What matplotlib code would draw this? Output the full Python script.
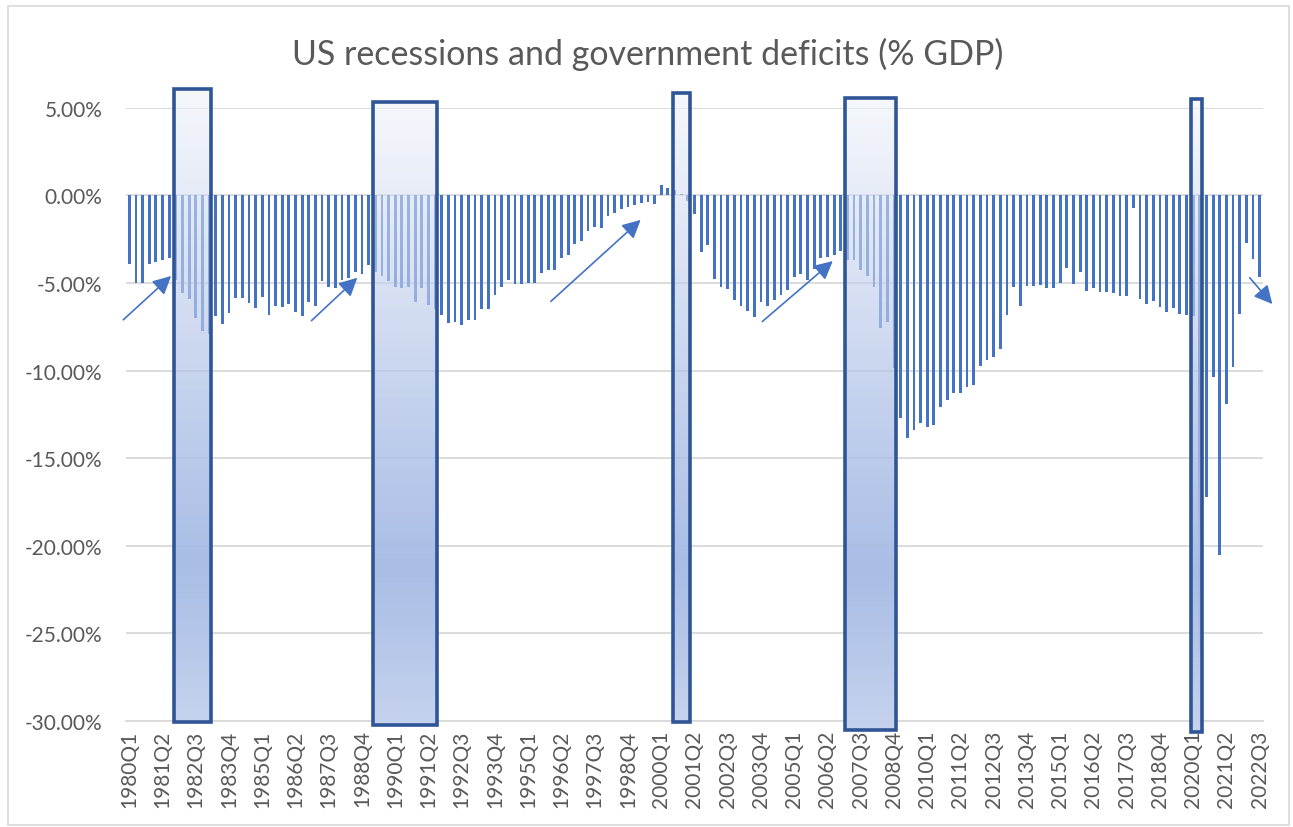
import matplotlib.pyplot as plt
import numpy as np
from matplotlib.patches import Rectangle

plt.rcParams['font.family'] = ['Lato', 'DejaVu Sans']

# quarterly deficit as % of GDP, 1980Q1 .. 2022Q3
years = list(range(1980, 2023))
quarters = [f"{y}Q{q}" for y in years for q in range(1, 5)][:171]

deficit = [
    -3.9, -5.0, -5.0, -3.9, -3.8, -3.7, -3.6, -4.85, -5.55, -5.9,
    -7.0, -7.75, -7.9, -6.9, -7.35, -6.7, -5.85, -5.85, -6.15, -6.45,
    -5.8, -6.8, -6.3, -6.35, -6.2, -6.65, -6.9, -6.1, -6.3, -4.9,
    -5.25, -5.3, -4.85, -4.7, -4.35, -4.5, -4.0, -4.35, -4.6, -4.9,
    -5.2, -5.3, -5.2, -6.1, -5.3, -6.25, -6.5, -6.8, -7.3, -7.25,
    -7.4, -7.1, -7.1, -6.5, -6.5, -5.7, -5.25, -4.85, -5.05, -5.05,
    -5.0, -5.0, -4.45, -4.25, -4.25, -3.6, -3.4, -2.8, -2.6, -2.05,
    -1.8, -1.85, -1.15, -1.0, -0.8, -0.65, -0.55, -0.45, -0.4, -0.5,
    0.6, 0.4, 0.3, 0.1, -0.3, -1.05, -3.25, -2.85, -4.8, -5.25,
    -5.35, -5.95, -6.3, -6.6, -6.95, -6.1, -6.3, -5.95, -5.7, -5.4,
    -4.65, -4.5, -4.85, -4.2, -3.6, -3.5, -3.4, -3.15, -3.7, -3.7,
    -4.25, -4.6, -5.25, -7.55, -7.2, -9.85, -12.7, -13.85, -13.4, -13.0,
    -13.2, -13.1, -12.1, -11.65, -11.3, -11.3, -10.95, -10.8, -9.75, -9.4,
    -9.25, -8.75, -6.85, -5.25, -6.3, -5.15, -5.15, -5.1, -5.3, -5.3,
    -5.0, -4.15, -5.05, -4.35, -5.45, -5.3, -5.5, -5.5, -5.55, -5.75,
    -5.75, -0.7, -5.9, -6.2, -6.0, -6.35, -6.65, -6.45, -6.75, -6.85,
    -6.9, -26.0, -17.2, -10.35, -20.55, -11.9, -9.8, -6.75, -2.7, -3.65,
    -4.65,
]

# recession boxes: first and last quarter covered
recession_start = ["1981Q4", "1989Q2", "2000Q3", "2007Q1", "2020Q1"]
recession_end = ["1983Q1", "1991Q3", "2001Q1", "2008Q4", "2020Q2"]

yticks = [5, 0, -5, -10, -15, -20, -25, -30]

BAR = '#4472c4'
EDGE = '#2f5597'
GREY = '#595959'
GRID = '#d9d9d9'

fig = plt.figure(figsize=(12.93, 8.28), dpi=100)
ax = fig.add_axes([0.0974, 0.128, 0.8794, 0.7406])

x = np.arange(len(deficit))
ax.bar(x, deficit, width=0.42, color=BAR, zorder=2)

# gradient filled boxes over each recession (semi-transparent at the top,
# nearly opaque lower down, like the Excel shapes)
box_top = [6.05, 5.35, 5.85, 5.55, 5.5]
box_bottom = [-30.05, -30.2, -30.05, -30.5, -30.6]
stops = [(0.0, (246, 248, 252)), (0.75, (169, 189, 230)), (1.0, (197, 211, 238))]
n = 200
t = np.linspace(0, 1, n)
alpha = np.interp(t, [0.0, 0.45, 0.7, 1.0], [0.55, 0.7, 0.97, 0.97])
grad = np.zeros((n, 1, 4))
for c in range(3):
    seen = np.interp(t, [s[0] for s in stops], [s[1][c] for s in stops]) / 255.0
    grad[:, 0, c] = np.clip((seen - (1 - alpha)) / alpha, 0, 1)
grad[:, 0, 3] = alpha

for s, e, top, bot in zip(recession_start, recession_end, box_top, box_bottom):
    x0 = quarters.index(s) - 0.3
    x1 = quarters.index(e) + 0.3
    im = ax.imshow(grad, extent=(x0, x1, bot, top), origin='upper',
                   aspect='auto', zorder=3, interpolation='bilinear')
    im.set_clip_on(False)
    ax.add_patch(Rectangle((x0, bot), x1 - x0, top - bot, fill=False,
                           edgecolor=EDGE, lw=2.6, zorder=4, clip_on=False))

# arrows drawn on the chart
arrows = [((-0.9, -7.1), (6.3, -4.6)), ((27.4, -7.15), (34.3, -4.7)),
          ((63.4, -6.05), (76.9, -1.4)), ((95.2, -7.2), (105.8, -3.75)),
          ((168.5, -4.7), (171.9, -6.2))]
for (xa, ya), (xb, yb) in arrows:
    ax.annotate('', xy=(xb, yb), xytext=(xa, ya), annotation_clip=False,
                arrowprops=dict(arrowstyle='-|>,head_length=0.55,head_width=0.28',
                                mutation_scale=20, color=BAR, lw=1.2,
                                shrinkA=0, shrinkB=0), zorder=5)

ax.set_xlim(-0.5, len(deficit) - 0.5)
ax.set_ylim(-30, 5)
ax.set_yticks(yticks)
ax.set_yticklabels([f"{v:.2f}%" for v in yticks])
ax.set_xticks(x[::5])
ax.set_xticklabels(quarters[::5], rotation=90)
ax.tick_params(axis='y', length=0, pad=17, labelsize=15, labelcolor=GREY)
ax.tick_params(axis='x', length=0, pad=6, labelsize=15, labelcolor=GREY)
ax.grid(axis='y', color=GRID, lw=1.3, zorder=0)
ax.set_axisbelow(True)
for side in ['top', 'left', 'right']:
    ax.spines[side].set_visible(False)
ax.spines['bottom'].set_color(GRID)
ax.spines['bottom'].set_linewidth(1.3)

fig.text(0.501, 0.934, 'US recessions and government deficits (% GDP)',
         ha='center', va='center', fontsize=24.5, color=GREY)

fig.patches.append(Rectangle((0.006, 0.003), 0.991, 0.988, transform=fig.transFigure,
                             fill=False, edgecolor=GRID, lw=1.2))

fig.savefig('out.png', dpi=100)
